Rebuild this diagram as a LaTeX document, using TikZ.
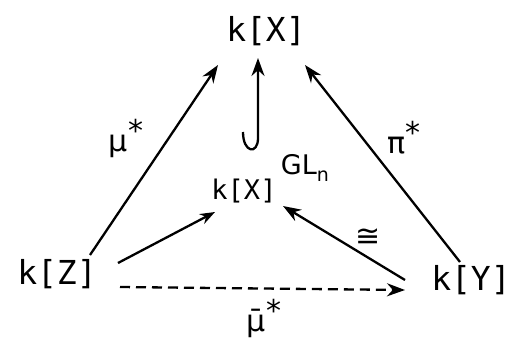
\documentclass[tikz,border=0pt]{standalone}
\usepackage{fontspec}
\usetikzlibrary{arrows.meta}
\newfontfamily\hand{DejaVu Sans Mono}
\newfontfamily\handsans{DejaVu Sans}
\begin{document}
\begin{tikzpicture}[x=1pt,y=-1pt,
  obj/.style={inner sep=1pt,font=\hand\fontsize{33}{36}\selectfont},
  objs/.style={inner sep=1pt,font=\hand\fontsize{27}{30}\selectfont},
  lab/.style={inner sep=0pt,font=\handsans\fontsize{30}{32}\selectfont},
  arr/.style={line width=2.3pt,-{Stealth[length=18pt,width=13pt]}},
  darr/.style={line width=2.3pt,dash pattern=on 10pt off 6pt,-{Stealth[length=18pt,width=13pt]}}]
\useasboundingbox (0,0) rectangle (515,338);
\node[obj] (X) at (266,31) {k[X]};
\node[objs] (XG) at (244,191) {k[X]};
\node[inner sep=0pt] (GL) at (305,168) {\handsans\fontsize{27}{29}\selectfont GL\raisebox{-7pt}{\fontsize{19}{20}\selectfont n}};
\node[obj] (Z) at (57,274) {k[Z]};
\node[obj] (Y) at (471,280) {k[Y]};
% arrows
\draw[arr] ([shift={(33,-19)}]Z.center) -- ([shift={(-48,34)}]X.center);
\draw[arr] ([shift={(-11,-18)}]Y.center) -- ([shift={(39,34)}]X.center);
\coordinate (hk) at ([shift={(-1,-59)}]XG.center);
\draw[arr] (hk) .. controls ([shift={(-1,-38)}]XG.center) and ([shift={(14,-36)}]XG.center) .. ([shift={(14,-53)}]XG.center) -- ([shift={(-8,27)}]X.center);
\draw[arr,-{Stealth[length=15pt,width=11pt]}] ([shift={(61,-11)}]Z.center) -- ([shift={(-29,21)}]XG.center);
\draw[arr] ([shift={(-66,0)}]Y.center) -- ([shift={(39,15)}]XG.center);
\draw[darr] ([shift={(63,13)}]Z.center) -- ([shift={(-66,10)}]Y.center);
% labels
\node[lab] (lmu) at (126,138) {μ\raisebox{10pt}{*}};
\node[lab] (lpi) at (404,138) {π\raisebox{10pt}{*}};
\node[lab] (liso) at (368,238) {≅};
\node[lab] (lmub) at (264,318) {μ̄\raisebox{10pt}{*}};
\end{tikzpicture}
\end{document}
